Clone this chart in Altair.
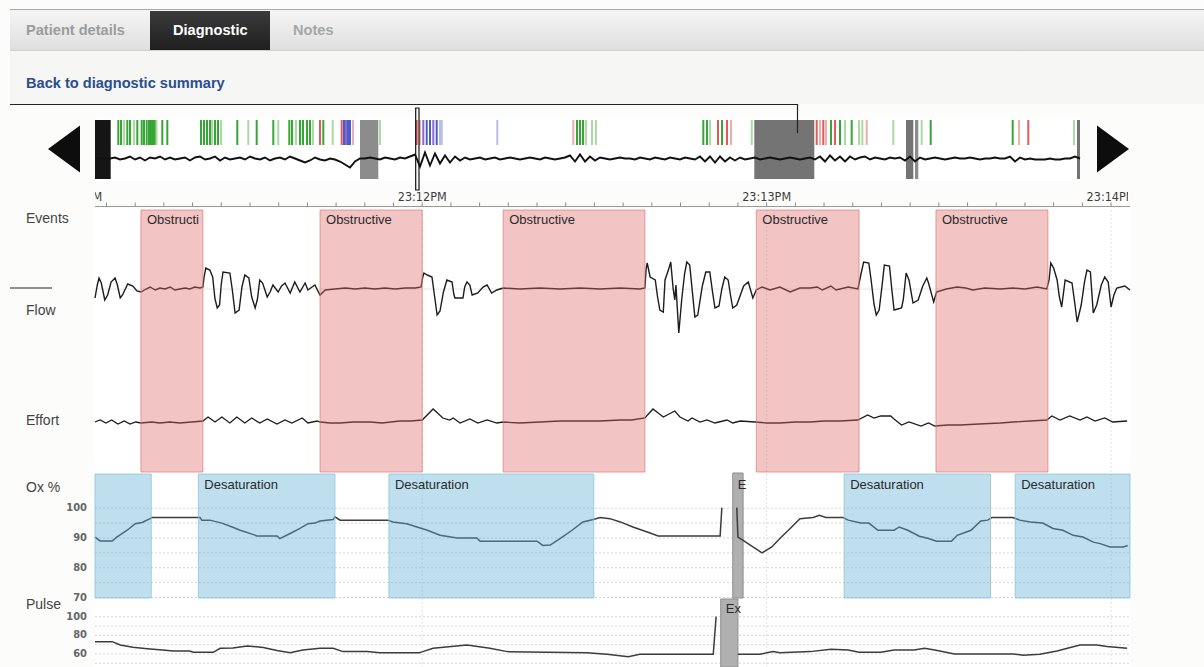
import altair as alt
import pandas as pd

SANS = "Liberation Sans, Arial, Helvetica, sans-serif"
NARROW = "DejaVu Sans Condensed, Liberation Sans Narrow, sans-serif"
PAGE = "#fcfcfa"
CUT = "\u200b"  # zero-width marker used when a label is cut at its box edge

# ---------------- detail view: seconds after 23:11:00 ----------------
VIEW = [3.0, 183.3]
DETAIL_X = [95, 1130]

tick_seconds = [5, 10, 15, 20, 25, 30, 35, 40, 45, 50, 55, 60, 65, 70, 75, 80, 85, 90,
                95, 100, 105, 110, 115, 120, 125, 130, 135, 140, 145, 150, 155, 160,
                165, 170, 175, 180]
minute_seconds = [0, 60, 120, 180]
minute_labels = ["23:11PM", "23:12PM", "23:13PM", "23:14PM"]

obstructive_start = [11.0, 42.2, 74.1, 118.2, 149.5]
obstructive_end = [21.8, 60.0, 98.8, 136.1, 169.0]
desat_start = [3.0, 21.0, 54.2, 133.5, 163.3]
desat_end = [12.8, 44.8, 89.9, 159.0, 183.3]
ox_exclusion = [(114.1, 115.9, "Excluded")]
pulse_exclusion = [(112.0, 115.0, "Excluded")]

# airflow (arbitrary units, 0 = baseline)
flow_samples = [
    (3.0, -0.9), (3.4, 0.4), (3.7, 1.1), (4.1, 0.6), (4.7, -1.1), (5.2, -0.6), (5.8, 0.7),
    (6.5, 1.1), (6.9, 0.4), (7.4, -0.9), (7.8, -0.6), (8.2, -0.1), (8.7, 0.5), (9.6, 0.3),
    (10.3, -0.2), (11.0, -0.3),
    (11.9, 0.0), (12.6, 0.2), (13.5, -0.1), (14.3, 0.1), (15.2, 0.0), (16.1, 0.2), (16.9, -0.1),
    (17.8, 0.0), (18.7, 0.1), (19.5, 0.0), (20.4, 0.2), (21.3, 0.1), (21.8, 0.2),
    (22.0, 1.2), (22.3, 2.1), (23.0, 1.9), (23.5, 1.2), (23.9, -1.0), (24.3, -1.9), (24.7, -1.6),
    (25.0, 0.5), (25.3, 1.7), (26.5, 1.6), (26.9, 0.0), (27.4, -2.4), (28.1, -2.1), (28.6, 0.2),
    (29.1, 1.4), (29.8, 1.1), (30.3, -0.8), (30.9, -1.9), (31.3, -1.0), (31.7, 0.9), (32.2, 0.6),
    (33.0, -0.8), (33.5, -0.3), (34.0, 0.4), (34.9, -0.3), (35.5, 0.3), (36.1, 0.6),
    (37.0, -0.4), (37.8, 0.7), (38.7, -0.3), (39.6, 0.6), (40.1, -0.1), (41.3, 0.4),
    (42.2, -0.6),
    (43.1, -0.1), (44.8, 0.0), (46.6, 0.1), (48.3, 0.0), (50.0, 0.1), (51.8, 0.0), (53.5, 0.1),
    (55.3, 0.0), (57.0, 0.1), (58.8, 0.1), (59.8, 0.2),
    (60.1, 1.2), (60.3, 1.6), (60.9, 1.4), (61.7, 1.2), (62.1, -0.5), (62.6, -2.6), (63.1, -2.2),
    (63.7, -0.3), (64.3, 0.9), (65.2, 0.7), (65.5, -0.5), (65.7, -0.9), (67.1, -0.9),
    (67.4, 0.2), (67.8, 0.7), (68.3, 0.4), (68.7, -0.6), (69.7, -0.4), (70.6, 0.2), (71.3, 0.4),
    (72.1, -0.4), (73.0, -0.1), (74.1, 0.1),
    (77.0, 0.0), (80.5, 0.1), (84.0, 0.0), (87.5, 0.1), (91.0, 0.0), (94.5, 0.1), (97.9, 0.0),
    (98.8, 0.1),
    (99.0, 2.0), (99.2, 2.6), (99.7, 1.2), (100.6, 0.9), (101.0, -0.8), (101.4, -2.1),
    (102.0, -2.3), (102.3, 0.9), (103.0, 2.1), (103.3, 2.7), (103.7, 0.1), (104.0, -1.1),
    (104.2, 0.4), (104.5, -2.5), (104.7, -4.4), (105.2, -1.1), (105.7, 1.5), (106.1, 2.7),
    (106.6, 2.4), (107.1, -0.5), (107.5, -2.8), (108.0, -2.6), (108.8, 0.3), (109.4, 1.7),
    (110.1, 1.7), (110.6, -0.4), (111.0, -1.9), (111.7, -1.7), (112.2, 0.0), (112.7, 1.2),
    (113.3, 0.9), (113.7, -0.6), (114.1, -1.9), (114.8, -1.6), (116.0, 0.3), (116.8, 0.7),
    (117.6, -0.9), (118.2, -0.1),
    (119.2, 0.2), (120.6, -0.1), (122.3, 0.2), (124.1, -0.3), (125.8, 0.1), (127.6, 0.1),
    (128.8, 0.2), (129.7, -0.1), (131.2, 0.3), (132.1, -0.1), (134.2, 0.2), (135.9, 0.0),
    (136.4, 1.4), (136.9, 2.7), (137.8, 2.6), (138.2, 0.9), (138.7, -1.5), (139.1, -2.6),
    (139.6, -2.1), (140.1, 0.3), (140.5, 2.4), (141.4, 2.3), (141.8, 0.0), (142.2, -2.1),
    (143.5, -1.9), (143.8, -1.1), (144.3, 1.6), (144.8, 0.9), (145.5, -1.4), (146.4, -1.1),
    (147.2, 0.3), (147.9, 1.1), (148.2, 0.6), (149.1, -1.3), (149.6, -0.3),
    (151.3, 0.0), (153.2, 0.2), (154.7, 0.1), (155.9, -0.1), (158.0, 0.1), (160.7, 0.0),
    (162.9, 0.1), (165.0, 0.0), (167.1, 0.2), (168.8, 0.0),
    (169.2, 0.9), (169.5, 2.6), (170.0, 2.1), (170.6, 0.9), (171.0, -0.8), (171.4, -1.8),
    (172.0, 0.9), (173.2, 0.6), (173.7, -1.5), (174.1, -3.3), (174.8, -1.6), (175.4, 0.8),
    (175.8, 1.9), (176.4, 1.7), (176.9, -2.4), (177.5, -1.6), (178.3, 0.4), (178.9, 1.2),
    (179.5, 0.7), (180.0, -1.8), (180.5, -0.6), (181.0, 0.1), (182.4, 0.3), (183.3, -0.1),
]

# respiratory effort (arbitrary units)
effort_samples = [
    (3.0, 0.0), (3.9, 0.2), (4.9, -0.1), (5.9, 0.2), (7.0, -0.2), (8.1, 0.1), (9.1, -0.2),
    (10.1, 0.0), (11.0, -0.1), (12.9, 0.0), (14.3, -0.1), (16.0, 0.0), (17.8, -0.1), (19.8, 0.0),
    (21.8, 0.1), (22.7, 0.5), (23.9, 0.0),
    (25.1, 0.5), (26.5, -0.1), (27.7, 0.5), (29.1, -0.1), (30.3, 0.4), (31.7, -0.1), (33.0, 0.3),
    (34.7, -0.2), (36.1, 0.2), (37.3, -0.1), (39.1, 0.4), (40.1, -0.1), (41.7, 0.1), (42.2, 0.0),
    (44.0, -0.1), (45.7, -0.1), (48.0, 0.0), (50.9, 0.0), (53.0, -0.1), (56.1, 0.1), (58.0, 0.1),
    (60.0, 0.2), (61.9, 1.3), (63.6, 0.4), (64.8, 0.2),
    (65.4, 0.4), (66.6, -0.1), (68.3, 0.3), (69.7, -0.1), (71.3, 0.2), (73.0, -0.1), (74.1, 0.0),
    (77.0, -0.1), (80.5, 0.0), (84.0, 0.1), (87.5, 0.1), (91.0, 0.1), (94.5, 0.2), (96.5, 0.2),
    (98.8, 0.4), (100.2, 1.3), (101.1, 0.9), (102.0, 0.5),
    (104.0, 1.1), (104.9, 0.5), (106.3, 0.1), (107.0, 0.4), (108.4, 0.0), (109.6, 0.2),
    (111.0, -0.1), (113.1, 0.2), (114.1, -0.1), (115.4, 0.1), (118.0, 0.0),
    (120.0, -0.1), (122.3, -0.1), (125.0, 0.0), (127.6, 0.0), (130.0, 0.1), (132.8, 0.1),
    (135.9, 0.2), (137.6, 0.7), (138.7, 0.4),
    (139.9, 0.6), (141.6, 0.6), (142.2, 0.3), (143.5, -0.3), (144.8, 0.0), (146.9, -0.4),
    (148.2, -0.1), (149.3, -0.4), (151.5, -0.3), (153.7, -0.3), (157.0, -0.2), (160.7, -0.1),
    (163.0, 0.0), (165.9, 0.1), (168.8, 0.2),
    (169.7, 0.6), (171.1, 0.2), (172.8, 0.6), (174.6, 0.2), (175.8, 0.5), (177.2, 0.1),
    (178.9, 0.4), (180.3, 0.0), (182.8, 0.1),
]

# oxygen saturation (%), two recorded segments
ox_segments = [
    [(3.0, 90.3), (3.9, 89.0), (6.0, 89.0), (6.8, 90.3), (8.6, 92.6), (10.0, 94.8), (11.2, 95.2),
     (12.6, 96.5), (12.9, 96.9), (21.3, 96.9), (21.6, 96.0), (23.0, 96.0), (25.1, 95.0),
     (27.0, 93.6), (28.3, 92.6), (30.5, 91.2), (31.2, 90.7), (34.7, 90.7), (35.2, 89.8),
     (37.0, 91.5), (38.7, 93.2), (40.1, 94.8), (41.3, 95.0), (42.2, 95.7), (44.5, 96.2),
     (44.8, 97.1), (45.7, 96.0), (54.0, 96.0), (54.9, 95.4), (57.3, 94.8), (59.1, 93.7),
     (60.9, 92.6), (63.1, 90.9), (66.1, 90.0), (69.5, 90.0), (70.1, 88.9), (80.0, 88.9),
     (81.0, 87.5), (82.3, 87.6), (84.0, 89.8), (86.1, 92.6), (88.0, 95.4), (89.8, 96.2),
     (91.0, 96.9), (92.7, 96.5), (94.5, 95.4), (96.7, 93.7), (99.2, 92.0), (101.1, 90.7),
     (111.9, 90.7), (112.2, 100.2)],
    [(114.8, 100.2), (115.0, 90.3), (115.9, 89.2), (119.2, 85.0), (120.9, 87.0), (122.3, 89.8),
     (124.1, 93.2), (125.8, 96.5), (128.1, 96.9), (129.2, 97.6), (130.3, 96.9), (133.3, 96.9),
     (134.2, 96.0), (136.4, 95.0), (137.8, 95.0), (139.4, 92.6), (142.2, 92.6), (143.1, 93.7),
     (144.6, 92.6), (146.6, 90.6), (148.2, 89.8), (149.6, 88.9), (152.2, 88.9), (153.2, 90.9),
     (155.6, 92.6), (157.3, 95.7), (158.5, 96.0), (159.3, 96.9), (162.9, 96.9), (164.1, 96.0),
     (165.9, 95.4), (168.1, 95.0), (169.9, 93.2), (171.6, 92.6), (173.4, 90.9), (175.1, 90.3),
     (176.9, 88.6), (178.1, 88.1), (179.8, 87.0), (182.1, 87.0), (182.9, 87.5)],
]

# pulse (bpm), two recorded segments
pulse_segments = [
    [(3.0, 73.2), (6.0, 73.2), (7.4, 69.6), (9.6, 67.2), (12.1, 65.7), (14.8, 64.3), (16.6, 63.2),
     (19.5, 63.2), (20.1, 61.8), (23.6, 61.8), (24.8, 66.1), (27.0, 66.4), (29.5, 68.6),
     (32.3, 67.0), (34.7, 63.6), (37.0, 61.4), (39.2, 64.3), (42.2, 66.1), (44.5, 66.1),
     (46.2, 62.5), (50.4, 62.5), (52.6, 61.4), (59.5, 61.4), (60.1, 62.5), (61.9, 66.1),
     (67.8, 69.6), (71.8, 66.1), (74.8, 62.5), (88.7, 61.4), (92.2, 59.7), (95.9, 57.1),
     (97.9, 59.7), (110.7, 59.7), (111.2, 100.0)],
    [(115.0, 59.7), (118.8, 59.7), (121.1, 62.5), (122.3, 61.4), (127.6, 62.5), (131.2, 65.0),
     (134.2, 64.3), (136.1, 61.8), (139.9, 61.8), (142.2, 64.3), (145.7, 64.3), (147.5, 66.1),
     (149.3, 64.3), (152.7, 60.0), (162.9, 60.0), (164.7, 58.6), (167.6, 59.7), (170.6, 63.2),
     (173.4, 67.8), (174.6, 69.6), (177.5, 69.6), (179.3, 68.0), (182.8, 66.1)],
]

ox_grid = [70, 75, 80, 85, 90, 95, 100]
ox_ticks = [70, 80, 90, 100]
pulse_grid = [50, 60, 70, 80, 90, 100]
pulse_ticks = [60, 80, 100]

# ---------------- overview strip: 10-second epochs ----------------
OVERVIEW = [0, 197]
OVERVIEW_X = [95, 1080]

overview_trace = [
    0, 0, 0, 0,
    1, -1, 0, 2, -1, 1, -2, 1, 0, 2,
    -1, 1, -1, 0, 1, -2, 1, 2, -1, 0,
    2, -2, 1, -1, 0, 1, -1, 2, 0, -1,
    1, -2, 0, 1, -1, 2, 0, -2, -4, -2,
    1, -1, -2, 0, -1, -3, -6, -9, -3, 0,
    0, 1, 0, -1, 1, 0, -1, 1, 0, 2,
    4, -8, 6, -7, 5, -5, 3, -4, 2, -2,
    1, -1, 0, 1, -1, 0, 1, -1, 0, 1,
    0, -1, 0, 1, 0, -1, 1, 0, -1, 0,
    1, 3, -3, 4, -3, 2, -2, 1, 0, -1,
    0, 1, 0, 0, -1, 1, 0, -1, 1, 0,
    -1, 1, 0, -1, 1, 0, -1, 2, -3, 2,
    -4, 2, -3, 1, -2, 1, -1, 0, 1, -1,
    0, 1, 0, -1, 0, 1, 0, -1, 0, 1,
    -1, 2, -3, 3, -2, 2, -3, 2, -1, 1,
    2, -1, 1, 0, -1, 1, 0, 1, -2, 2,
    -3, 1, -1, 0, 1, 0, -1, 0, 1, 0,
    0, 1, 0, -1, 0, 0, 1, 0, 0, 2,
    -3, 1, -1, 0, -1, -1, -1, 0, -1, -1,
    0, 0, 2, 0,
]

marker_epochs = [
    (4.66, "green"), (5.2, "green"), (5.8, "pale green"), (6.46, "green"), (7.0, "green"),
    (7.8, "pale green"), (8.46, "green"), (9.34, "green"), (9.8, "green"), (10.34, "green"),
    (10.8, "green"), (11.2, "green"), (11.6, "green"), (12.0, "green"), (12.3, "pale green"),
    (13.46, "green"), (14.46, "green"),
    (21.2, "green"), (21.8, "green"), (22.4, "green"), (23.0, "green"), (23.4, "pale green"),
    (24.0, "green"), (24.6, "green"), (25.2, "pale green"), (28.46, "green"),
    (30.66, "pale green"), (32.34, "green"),
    (35.66, "green"), (36.66, "pale green"), (38.86, "green"), (39.4, "green"),
    (40.2, "pale green"), (41.0, "green"), (41.6, "green"), (42.4, "green"), (43.0, "green"),
    (43.6, "pale green"), (45.0, "red"), (45.66, "green"), (47.54, "pale green"),
    (49.34, "red"), (49.8, "blue"), (50.2, "purple"), (50.6, "blue"), (51.0, "blue"),
    (51.6, "pink"), (57.0, "pale green"),
    (64.34, "red"), (65.0, "pink"), (65.66, "purple"), (66.34, "blue"), (67.0, "blue"),
    (67.66, "purple"), (68.34, "blue"), (69.0, "lavender"), (69.34, "lavender"),
    (80.46, "lavender"),
    (95.66, "pink"), (96.4, "green"), (97.0, "green"), (97.6, "green"), (98.2, "pale green"),
    (99.4, "pale green"), (100.2, "pale green"),
    (121.66, "green"), (122.4, "green"), (123.0, "pale green"), (124.6, "red"), (125.4, "green"),
    (126.4, "red"), (127.2, "pink"), (131.34, "pale green"),
    (144.34, "red"), (145.0, "pink"), (145.66, "red"), (146.2, "pink"), (147.2, "green"),
    (148.0, "red"), (149.0, "green"), (150.0, "pale green"), (151.34, "green"),
    (152.8, "pale green"), (153.46, "pale green"), (154.34, "pink"),
    (159.66, "pale green"), (165.34, "pale green"), (167.14, "green"),
    (183.54, "green"), (184.8, "pink"), (186.66, "red"), (195.8, "pale green"),
]
overview_blocks = [
    (0.0, 3.14, "black"), (53.0, 56.66, "gray"), (131.86, 143.86, "dark gray"),
    (162.2, 163.66, "dark gray"), (164.0, 164.66, "gray"), (196.4, 197.0, "dark gray"),
]
cursor_epoch = [(64.14, 64.8)]

# ---------------- panel scales (domain -> pixel range) ----------------
FLOW_DOMAIN, FLOW_RANGE = [-10, 10], [389, 189]
EFFORT_DOMAIN, EFFORT_RANGE = [-10, 10], [522, 322]
OX_DOMAIN, OX_RANGE = [70, 111.5], [597.5, 474]
PULSE_DOMAIN, PULSE_RANGE = [46, 118], [667, 599.9]
TRACE_DOMAIN, TRACE_RANGE = [-20, 20], [178.5, 138.5]


def xs(field):
    return alt.X(f"{field}:Q", axis=None,
                 scale=alt.Scale(domain=VIEW, range=DETAIL_X, nice=False, zero=False))


def xo(field):
    return alt.X(f"{field}:Q", axis=None,
                 scale=alt.Scale(domain=OVERVIEW, range=OVERVIEW_X, nice=False, zero=False))


def ys(field, domain, rng):
    return alt.Y(f"{field}:Q", axis=None,
                 scale=alt.Scale(domain=domain, range=rng, nice=False, zero=False))


ONE = pd.DataFrame({"k": [0]})


def box(x0, x1, y0, y1, **mark):
    return alt.Chart(ONE).mark_rect(**mark).encode(
        x=alt.value(x0), x2=alt.value(x1), y=alt.value(y0), y2=alt.value(y1))


def hline(x0, x1, y, **mark):
    return alt.Chart(ONE).mark_rule(**mark).encode(
        x=alt.value(x0), x2=alt.value(x1), y=alt.value(y))


def vline(x, y0, y1, **mark):
    return alt.Chart(ONE).mark_rule(**mark).encode(
        x=alt.value(x), y=alt.value(y0), y2=alt.value(y1))


def caption(text, x, y, **mark):
    return alt.Chart(ONE).mark_text(text=text, **mark).encode(x=alt.value(x), y=alt.value(y))


def vgrad(top, bottom):
    return alt.Gradient(gradient="linear", x1=0, x2=0, y1=0, y2=1,
                        stops=[alt.GradientStop(color=top, offset=0),
                               alt.GradientStop(color=bottom, offset=1)])


# ---------------- frames ----------------
obstructive = pd.DataFrame({"start": obstructive_start, "end": obstructive_end,
                            "label": ["Obstructive"] * len(obstructive_start)})
desat = pd.DataFrame({"start": desat_start, "end": desat_end,
                      "label": ["Desaturation"] * len(desat_start)})
ox_excl = pd.DataFrame(ox_exclusion, columns=["start", "end", "label"])
pulse_excl = pd.DataFrame(pulse_exclusion, columns=["start", "end", "label"])
flow = pd.DataFrame(flow_samples, columns=["t", "v"])
effort = pd.DataFrame(effort_samples, columns=["t", "v"])
ox = pd.DataFrame([(t, v, i) for i, seg in enumerate(ox_segments) for t, v in seg],
                  columns=["t", "v", "seg"])
pulse = pd.DataFrame([(t, v, i) for i, seg in enumerate(pulse_segments) for t, v in seg],
                     columns=["t", "v", "seg"])
ticks = pd.DataFrame({"t": tick_seconds})
minutes = pd.DataFrame({"t": minute_seconds, "label": minute_labels})
trace = pd.DataFrame({"epoch": list(range(len(overview_trace))), "amp": overview_trace})
markers = pd.DataFrame(marker_epochs, columns=["epoch", "kind"])
blocks = pd.DataFrame(overview_blocks, columns=["start", "end", "kind"])
cursor = pd.DataFrame(cursor_epoch, columns=["start", "end"])

layers = []

# ---- page chrome: tabs and link ----
layers += [
    box(10, 1204, 10, 50, fill=vgrad("#f5f5f5", "#dfdfdf")),
    hline(10, 1204, 9.5, color="#a8a8a8", strokeWidth=1),
    hline(10, 1204, 50.5, color="#cfcfcf", strokeWidth=1),
    box(150, 270, 11, 50, fill=vgrad("#3b3b3b", "#1f1f1f")),
    box(10, 1204, 51, 104, fill="#f6f6f4"),
    caption("Patient details", 26, 31, align="left", baseline="middle", font=SANS,
            fontSize=14.6, fontWeight="bold", color="#9c9c9c"),
    caption("Diagnostic", 173, 31, align="left", baseline="middle", font=SANS,
            fontSize=14.6, fontWeight="bold", color="#ffffff"),
    caption("Notes", 293, 31, align="left", baseline="middle", font=SANS,
            fontSize=14.6, fontWeight="bold", color="#a6a6a6"),
    caption("Back to diagnostic summary", 26, 84, align="left", baseline="middle", font=SANS,
            fontSize=14.6, fontWeight="bold", color="#2b4d8c"),
]

# ---- overview strip ----
TRI_LEFT = "M0.68,-1L0.68,1L-0.68,0Z"
TRI_RIGHT = "M-0.68,-1L-0.68,1L0.68,0Z"
marker_kinds = ["green", "pale green", "red", "pink", "blue", "purple", "lavender"]
marker_colors = ["#37a637", "#a9dba3", "#e05a5a", "#f1acac", "#4a5ccc", "#8c68c8", "#babce6"]
block_kinds = ["black", "gray", "dark gray"]
block_colors = ["#151515", "#8c8c8c", "#747474"]

layers += [
    box(95, 1080, 118, 181, fill="#ffffff"),
    alt.Chart(markers).mark_rule(strokeWidth=2).encode(
        x=xo("epoch"), y=alt.value(120), y2=alt.value(145),
        color=alt.Color("kind:N", legend=None,
                        scale=alt.Scale(domain=marker_kinds, range=marker_colors))),
    alt.Chart(blocks).mark_rect().encode(
        x=xo("start"), x2="end", y=alt.value(120), y2=alt.value(179),
        color=alt.Color("kind:N", legend=None,
                        scale=alt.Scale(domain=block_kinds, range=block_colors))),
    alt.Chart(trace).mark_line(color="#111111", strokeWidth=1.9).encode(
        x=xo("epoch"), y=ys("amp", TRACE_DOMAIN, TRACE_RANGE)),
    alt.Chart(cursor).mark_rect(fillOpacity=0, stroke="#111111", strokeWidth=1.2).encode(
        x=xo("start"), x2="end", y=alt.value(108), y2=alt.value(190)),
    alt.Chart(ONE).mark_point(shape=TRI_LEFT, size=2209, filled=True, opacity=1,
                              color="#0d0d0d").encode(x=alt.value(64), y=alt.value(149)),
    alt.Chart(ONE).mark_point(shape=TRI_RIGHT, size=2209, filled=True, opacity=1,
                              color="#0d0d0d").encode(x=alt.value(1113), y=alt.value(149)),
    hline(10, 798, 104.5, color="#222222", strokeWidth=1.2),
    vline(797.5, 104, 133, color="#222222", strokeWidth=1.2),
]

# ---- detail time axis ----
layers += [
    box(95, 1130, 208, 667, fill="#ffffff"),
    hline(95, 1130, 206.5, color="#9a9a9a", strokeWidth=1),
    alt.Chart(ticks).mark_rule(color="#8a8a8a", strokeWidth=1).encode(
        x=xs("t"), y=alt.value(202.5), y2=alt.value(206.5)),
    alt.Chart(minutes).mark_text(align="center", baseline="middle", font=NARROW,
                                 fontSize=12.5, color="#3c3c3c").encode(
        x=xs("t"), y=alt.value(197), text="label:N"),
    box(0, 95, 189, 204, fill=PAGE),
    box(1128, 1204, 189, 204, fill=PAGE),
]

# ---- lane titles ----
for text, y in [("Events", 219), ("Flow", 311), ("Effort", 421), ("Ox %", 488), ("Pulse", 605)]:
    layers.append(caption(text, 26, y, align="left", baseline="middle", font=SANS,
                          fontSize=14, color="#444444"))
layers.append(hline(10, 52, 288, color="#222222", strokeWidth=1.2))

# ---- grids ----
layers += [
    alt.Chart(minutes[minutes.t > VIEW[0]]).mark_rule(color="#e2e2e2", strokeDash=[2, 2]).encode(
        x=xs("t"), y=alt.value(210), y2=alt.value(667)),
    alt.Chart(ONE).mark_rule(color="#e6e6e6", strokeWidth=1).encode(
        x=alt.value(95), x2=alt.value(1130), y=alt.value(289)),
    alt.Chart(pd.DataFrame({"v": ox_grid})).mark_rule(color="#d6d6d6", strokeDash=[2, 2]).encode(
        x=alt.value(95), x2=alt.value(1130), y=ys("v", OX_DOMAIN, OX_RANGE)),
    alt.Chart(pd.DataFrame({"v": pulse_grid})).mark_rule(color="#d6d6d6", strokeDash=[2, 2]).encode(
        x=alt.value(95), x2=alt.value(1130), y=ys("v", PULSE_DOMAIN, PULSE_RANGE)),
]

# ---- excluded stretches (under the traces) ----
layers += [
    alt.Chart(ox_excl).mark_rect(fill="#b0b0b0", stroke="#8e8e8e", strokeWidth=1).encode(
        x=xs("start"), x2="end", y=alt.value(473), y2=alt.value(598)),
    alt.Chart(pulse_excl).mark_rect(fill="#b0b0b0", stroke="#8e8e8e", strokeWidth=1).encode(
        x=xs("start"), x2="end", y=alt.value(599), y2=alt.value(667)),
]

# ---- signal traces ----
layers += [
    alt.Chart(flow).mark_line(color="#1c1c1c", strokeWidth=1.4).encode(
        x=xs("t"), y=ys("v", FLOW_DOMAIN, FLOW_RANGE)),
    alt.Chart(effort).mark_line(color="#1c1c1c", strokeWidth=1.3).encode(
        x=xs("t"), y=ys("v", EFFORT_DOMAIN, EFFORT_RANGE)),
    alt.Chart(ox).mark_line(color="#3c3c3c", strokeWidth=1.5).encode(
        x=xs("t"), y=ys("v", OX_DOMAIN, OX_RANGE), detail="seg:N"),
    alt.Chart(pulse).mark_line(color="#3c3c3c", strokeWidth=1.5).encode(
        x=xs("t"), y=ys("v", PULSE_DOMAIN, PULSE_RANGE), detail="seg:N"),
]

# ---- scored events (translucent, over the traces) ----
layers += [
    alt.Chart(obstructive).mark_rect(fill="#de6b6b", fillOpacity=0.4, stroke="#dc7a7a",
                                     strokeOpacity=0.7, strokeWidth=1).encode(
        x=xs("start"), x2="end", y=alt.value(210), y2=alt.value(472)),
    alt.Chart(desat).mark_rect(fill="#5fafd4", fillOpacity=0.4, stroke="#8cc4de",
                               strokeOpacity=0.8, strokeWidth=1).encode(
        x=xs("start"), x2="end", y=alt.value(474), y2=alt.value(598)),
    alt.Chart(obstructive).transform_filter("datum.end - datum.start < 12").mark_text(
        align="left", baseline="middle", dx=6, font=SANS, fontSize=13, color="#2a2a2a",
        limit=57, ellipsis=CUT).encode(x=xs("start"), y=alt.value(220), text="label:N"),
    alt.Chart(obstructive).transform_filter("datum.end - datum.start >= 12").mark_text(
        align="left", baseline="middle", dx=6, font=SANS, fontSize=13, color="#2a2a2a").encode(
        x=xs("start"), y=alt.value(220), text="label:N"),
    alt.Chart(desat).transform_filter("datum.start > 3.5").mark_text(
        align="left", baseline="middle", dx=6, font=SANS, fontSize=13, color="#2a2a2a").encode(
        x=xs("start"), y=alt.value(485), text="label:N"),
    alt.Chart(ox_excl).mark_text(align="left", baseline="middle", dx=5, font=SANS, fontSize=13,
                                 color="#2a2a2a", limit=10, ellipsis=CUT).encode(
        x=xs("start"), y=alt.value(485), text="label:N"),
    alt.Chart(pulse_excl).mark_text(align="left", baseline="middle", dx=5, font=SANS, fontSize=13,
                                    color="#2a2a2a", limit=16, ellipsis=CUT).encode(
        x=xs("start"), y=alt.value(609), text="label:N"),
]

# ---- value labels for Ox % and Pulse ----
layers += [
    alt.Chart(pd.DataFrame({"v": ox_ticks})).mark_text(
        align="right", baseline="middle", font=NARROW, fontSize=11, fontWeight="bold",
        color="#666666").encode(x=alt.value(87), y=ys("v", OX_DOMAIN, OX_RANGE), text="v:Q"),
    alt.Chart(pd.DataFrame({"v": pulse_ticks})).mark_text(
        align="right", baseline="middle", font=NARROW, fontSize=11, fontWeight="bold",
        color="#666666").encode(x=alt.value(87), y=ys("v", PULSE_DOMAIN, PULSE_RANGE), text="v:Q"),
]

chart = (
    alt.layer(*layers)
    .resolve_scale(x="independent", y="independent", color="independent")
    .properties(width=1204, height=667, padding=0, background=PAGE,
                autosize=alt.AutoSizeParams(type="none"))
    .configure_view(stroke=None)
)

chart.save("out.html", embed_options={"renderer": "svg", "actions": False})
